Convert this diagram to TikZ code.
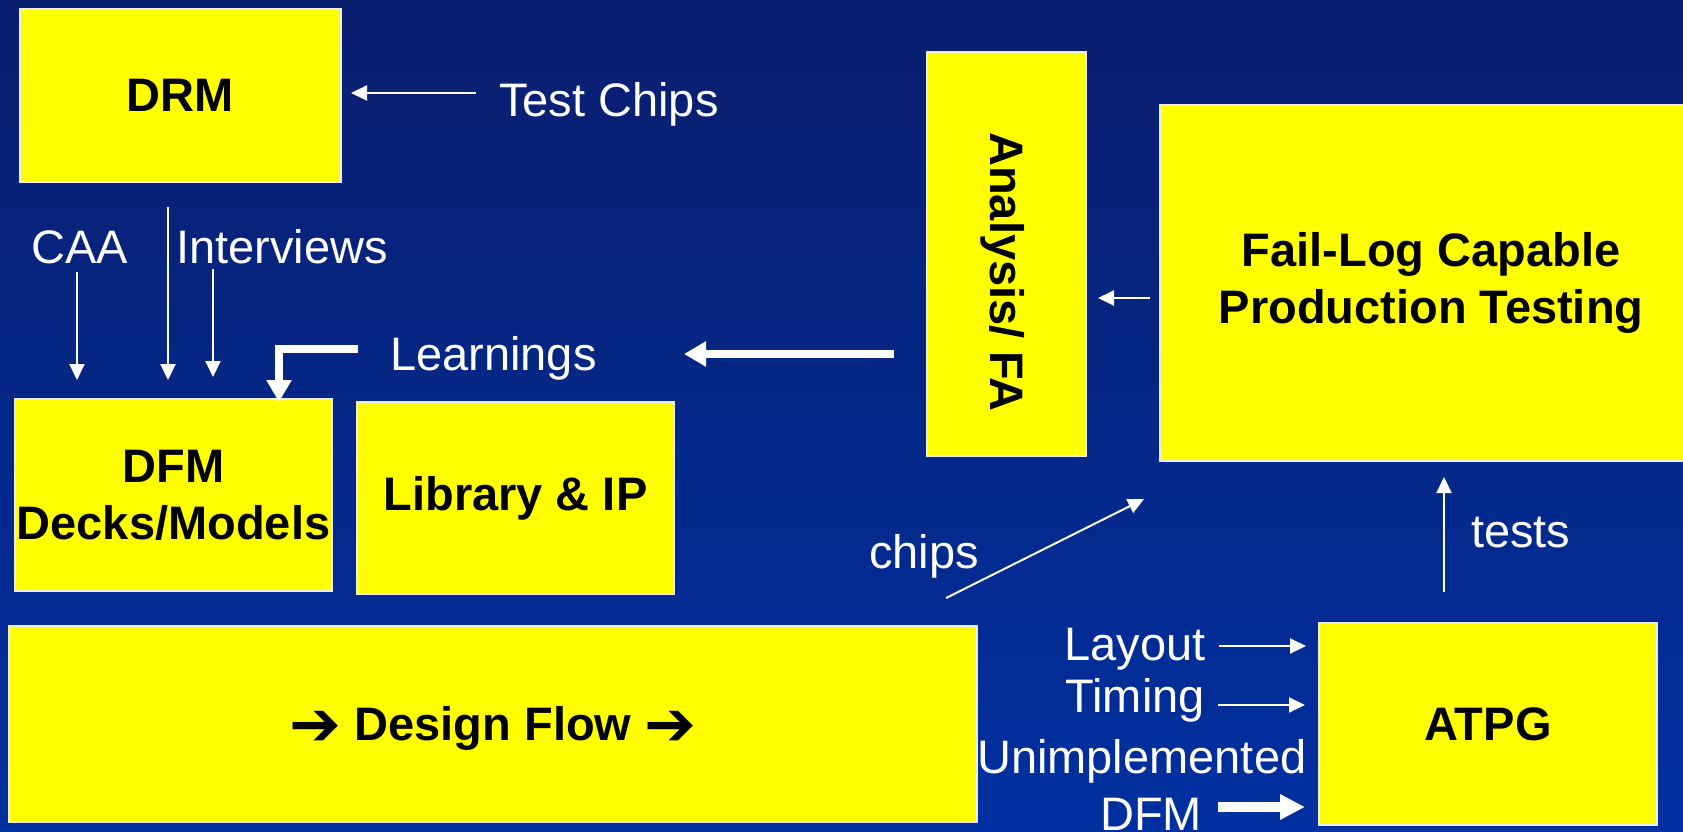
\documentclass[tikz,border=0pt]{standalone}
\usepackage{fontspec}
\setmainfont{Liberation Sans}
\newfontfamily\djv{DejaVu Sans}
\usetikzlibrary{arrows.meta,calc}
\definecolor{bgtop}{RGB}{10,30,110}
\definecolor{bgbot}{RGB}{0,48,160}
\definecolor{boxyellow}{RGB}{255,255,0}
\newcommand{\bigarr}{\raisebox{-5pt}{\djv\bfseries\fontsize{62}{57}\selectfont ➔}}
\begin{document}
\begin{tikzpicture}[x=1pt,y=-1pt,
  box/.style={draw=white!85!gray, line width=1.2pt, fill=boxyellow, inner sep=0pt, outer sep=0pt,
    font=\fontsize{47}{57}\selectfont\bfseries, text=black, align=center},
  boxtxt/.style={inner sep=0pt, font=\fontsize{47}{57}\selectfont\bfseries, text=black},
  lbl/.style={text=white, font=\fontsize{47}{57}\selectfont, inner sep=0pt},
  arrthin/.style={white, line width=2pt, -{Triangle[length=16pt,width=15pt]}},
  arrthick/.style={white, line width=8pt, line join=miter, -{Triangle[length=22pt,width=24pt]}},
]
\shade[top color=bgtop, bottom color=bgbot] (0,0) rectangle (1683,832);
\useasboundingbox (0,0) rectangle (1683,832);

% boxes
\node[box, minimum width=321pt, minimum height=173pt] (drm) at (180.5,95.5) {DRM};
\node[box, minimum width=317pt, minimum height=192pt] (dfm) at (173.5,495) {DFM\\Decks/Models};
\node[box, minimum width=317pt, minimum height=192pt] (lib) at (515.5,498) {Library \& IP};
\node[box, minimum width=159pt, minimum height=404pt] (ana) at (1006.5,254) {};
\node[boxtxt, rotate=-90] (anatxt) at (1003,272) {Analysis/ FA};
\node[box, minimum width=542pt, minimum height=356pt] (flpt) at (1431,283) {Fail-Log Capable\\Production Testing};
\node[box, minimum width=968pt, minimum height=196pt] (df) at (493,724) {};
\node[boxtxt] (dftxt) at (493,728) {\bigarr{} Design Flow \bigarr};
\node[box, minimum width=338pt, minimum height=202pt] (atpg) at (1488,724) {ATPG};

% labels
\node[lbl, anchor=base west] (tc) at (499,117) {Test Chips};
\node[lbl, anchor=base west] (caa) at (31,263) {CAA};
\node[lbl, anchor=base west] (intv) at (176,263) {Interviews};
\node[lbl, anchor=base west] (lrn) at (390,370) {Learnings};
\node[lbl, anchor=base west] (chips) at (869,568) {chips};
\node[lbl, anchor=base west] (tests) at (1471,547) {tests};
\node[lbl, anchor=base east] (layout) at (1206,660) {Layout};
\node[lbl, anchor=base east] (timing) at (1205,712) {Timing};
\node[lbl, anchor=base west] (unimp) at (977,773) {Unimplemented};
\node[lbl, anchor=base west] (udfm) at (1100,830) {DFM};

% connector end points
\coordinate (tcA) at (476,93);   \coordinate (tcB) at (351,93);
\coordinate (drmA) at (168,207); \coordinate (drmB) at (168,380);
\coordinate (caaA) at (77,272);  \coordinate (caaB) at (77,380);
\coordinate (intA) at (213,269); \coordinate (intB) at (213,377);
\coordinate (lrnA) at (358,349);
\coordinate (bigA) at (894,354); \coordinate (bigB) at (684,354);
\coordinate (flA) at (1150,298); \coordinate (flB) at (1098,298);
\coordinate (chA) at (946,598);  \coordinate (chB) at (1144,499);
\coordinate (tsA) at (1444,592); \coordinate (tsB) at (1444,477);
\coordinate (layA) at (1219,646); \coordinate (layB) at (1306,646);
\coordinate (timA) at (1218,705); \coordinate (timB) at (1305,705);
\coordinate (udA) at (1218,807);  \coordinate (udB) at (1305,807);

% connectors
\draw[arrthin] (tcA) -- (tcB);
\draw[arrthin] (drmA) -- (drmB);
\draw[arrthin] (caaA) -- (caaB);
\draw[arrthin] (intA) -- (intB);
\draw[arrthick] (lrnA) -| ([xshift=105.5pt,yshift=-3pt]dfm.north);
\draw[arrthick] (bigA) -- (bigB);
\draw[arrthin] (flA) -- (flB);
\draw[arrthin] (chA) -- (chB);
\draw[arrthin] (tsA) -- (tsB);
\draw[arrthin] (layA) -- (layB);
\draw[arrthin] (timA) -- (timB);
\draw[arrthick, line width=10pt, -{Triangle[length=25pt,width=24pt]}] (udA) -- (udB);
\end{tikzpicture}
\end{document}
